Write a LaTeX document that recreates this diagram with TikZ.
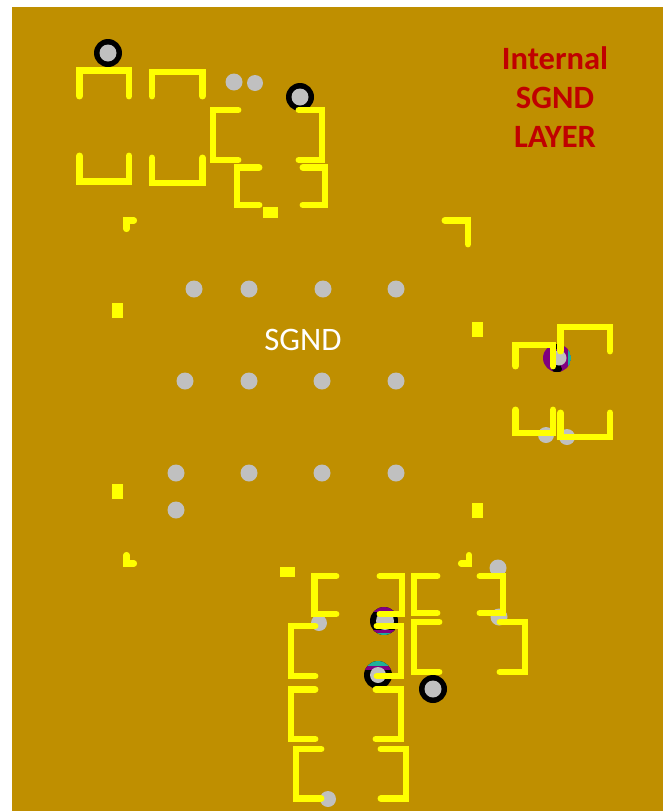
\documentclass[tikz,border=0pt]{standalone}
\usepackage{fontspec}
\setmainfont{Carlito}
\definecolor{boardgold}{HTML}{BF8F00}
\definecolor{padyellow}{HTML}{FFFF00}
\definecolor{viagrey}{HTML}{C0C0C0}
\definecolor{layerred}{HTML}{C00000}
\definecolor{viapurple}{HTML}{800080}
\definecolor{viateal}{HTML}{20B09A}
\tikzset{
    outline/.style={draw=padyellow, line width=5.2pt, line cap=round, line join=miter},
    thinoutline/.style={outline, line width=4.6pt},
    padfill/.style={fill=padyellow},
    holefill/.style={fill=viagrey},
    ringfill/.style={fill=black},
    layerlabel/.style={text=layerred, font=\bfseries\fontsize{24.4}{29}\selectfont, align=center},
    netlabel/.style={text=white, font=\fontsize{24.6}{29}\selectfont}
}
\begin{document}
\begin{tikzpicture}[x=0.75pt, y=-0.75pt]

\useasboundingbox (0,0) rectangle (663,811);
\fill[white] (0,0) rectangle (663,811);
\fill[boardgold] (12,7) rectangle (663,811);

% loose holes
\foreach \x/\y/\r in {234/82/8.5, 255/83/8, 194/289/8.5, 249/289/8.5, 323/289/8.5, 396/289/8.5,
    185/381/8.5, 249/381/8.5, 322/381/8.5, 396/381/8.5, 176/473/8.5, 249/473/8.5, 322/473/8.5, 396/473/8.5,
    176/510/8.5, 546/435/8, 567/437/8, 498/568/8.5, 499/617/8.5, 319/623/8, 328/799/8}
    \fill[holefill] (\x,\y) circle [radius=\r];

% plain ringed vias
\foreach \x/\y in {108/53, 300/97, 433/689} {
    \fill[ringfill] (\x,\y) circle [radius=14];
    \fill[holefill] (\x,\y) circle [radius=8.5];
}

% striped vias
\begin{scope}
    \clip (384,621) circle [radius=14];
    \fill[ringfill] (370,607) rectangle (398,635);
    \fill[viapurple] (370,607) rectangle (398,612);
    \fill[viapurple] (372,630) rectangle (398,633);
    \fill[viateal] (372,633) rectangle (398,635);
\end{scope}
\fill[holefill] (385,621) circle [radius=9];
\begin{scope}
    \clip (378,675) circle [radius=14];
    \fill[ringfill] (364,661) rectangle (392,689);
    \fill[viateal] (364,661) rectangle (392,666);
    \fill[viapurple] (364,666) rectangle (392,670);
\end{scope}
\fill[holefill] (378,675) circle [radius=8];
\begin{scope}
    \clip (557,358) circle [radius=14];
    \fill[viapurple] (543,344) rectangle (571,372);
    \fill[viateal] (568,344) rectangle (571,372);
    \fill[ringfill] (557,369) circle [radius=5];
    \fill[ringfill] (553,344) rectangle (557,349);
\end{scope}
\fill[holefill] (559,358) circle [radius=7.5];

% left side of a pad pair, x/top/bottom/end
\foreach \x/\t/\b/\e in {213/110/160/238, 237/167.5/205/259, 314.5/576/614/336, 414/576/613/437,
    414/622/672/439, 291/626/676/315, 291/689.5/739/315, 296/749/798.5/321}
    \draw[outline] (\e,\t) -- (\x,\t) -- (\x,\b) -- (\e,\b);

% right side of a pad pair
\foreach \x/\t/\b/\e in {322/110/160/299, 325/167.5/205/303, 402/576/614/380, 503/576/613/480,
    525/622/672/500, 401/626/676/377, 401/689.5/739/376, 406/749/798.5/381}
    \draw[outline] (\e,\t) -- (\x,\t) -- (\x,\b) -- (\e,\b);

% pad pairs facing up and down, left/right/top/leg end
\foreach \l/\r/\y/\e in {79.5/129/70.5/96, 152/202.5/72/96, 515.5/553/345/366, 560.5/610/327/351}
    \draw[outline] (\l,\e) -- (\l,\y) -- (\r,\y) -- (\r,\e);
\foreach \l/\r/\y/\e in {79.5/129/181.5/156, 152/202.5/183/158, 515.5/553/433/410, 560.5/610/437/413}
    \draw[outline] (\l,\e) -- (\l,\y) -- (\r,\y) -- (\r,\e);

% outline corners of the package
\draw[thinoutline] (126.5,229) -- (126.5,220.5) -- (134,220.5);
\draw[outline] (445,220.5) -- (468,220.5) -- (468,244);
\draw[thinoutline] (126.5,555) -- (126.5,563.5) -- (134,563.5);
\draw[thinoutline] (461,563.5) -- (469,563.5) -- (469,555);

% small pads
\foreach \x/\y/\w/\h in {270/212/15/11, 117/310/11/15, 477/329/11/15, 117/491/11/15, 477/510/11/15, 287.5/572/15/10}
    \fill[padfill] (\x-\w/2,\y-\h/2) rectangle (\x+\w/2,\y+\h/2);

\node[layerlabel] (layername) at (555,97) {Internal\\SGND\\LAYER};
\node[netlabel] (netname) at (303,340) {SGND};

\end{tikzpicture}
\end{document}
